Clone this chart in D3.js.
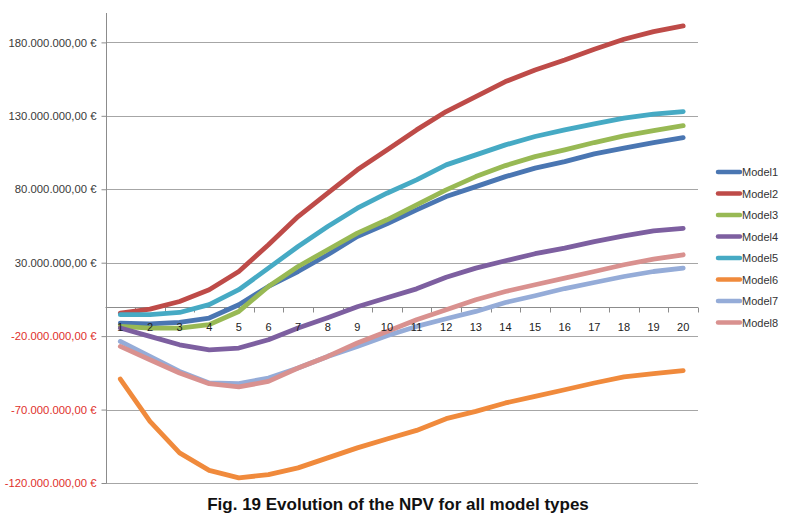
<!DOCTYPE html>
<html><head><meta charset="utf-8">
<script src="https://cdn.jsdelivr.net/npm/d3@7"></script>
<style>body{margin:0;background:#fff}svg{display:block}</style>
</head><body>
<svg id="c" width="793" height="514"></svg>
<script>
const years = d3.range(1, 21);
const seriesNames = ["Model1","Model2","Model3","Model4","Model5","Model6","Model7","Model8"];
const colors = ["#4a76b2","#be4b48","#98b954","#7d5fa0","#46aac4","#f08a3c","#95acd8","#d9918f"];
const yTicks = [-120e6,-70e6,-20e6,30e6,80e6,130e6,180e6];
const model1 = [-11.1,-11.6,-10.7,-7.7,1.4,13.8,24.0,35.4,47.8,56.5,66.0,75.0,81.8,88.6,94.4,98.8,104.1,108.0,111.8,115.2];
const model2 = [-4.3,-1.6,3.6,11.6,24.0,42.2,61.4,77.3,93.2,106.8,120.4,132.9,143.1,153.3,161.2,168.0,175.3,182.1,187.3,191.2];
const model3 = [-13.4,-14.5,-14.5,-12.2,-3.2,13.8,27.4,38.8,50.1,59.2,69.4,79.6,88.6,96.1,102.2,106.8,111.8,116.3,119.9,123.3];
const model4 = [-14.5,-20.2,-25.9,-29.3,-28.1,-22.5,-14.5,-7.5,0.0,6.1,12.2,20.1,26.3,31.3,36.1,39.9,44.4,48.3,51.7,53.3];
const model5 = [-5.4,-5.4,-3.9,1.4,11.6,26.3,41.0,54.6,67.1,77.3,86.4,96.6,103.4,110.2,115.9,120.4,124.5,128.4,131.1,132.9];
const model6 = [-49.2,-78.0,-99.5,-111.4,-116.5,-114.3,-109.7,-102.9,-96.1,-90.0,-84.2,-76.2,-71.2,-65.5,-61.0,-56.5,-51.9,-47.8,-45.6,-43.5];
const model7 = [-23.6,-33.8,-44.0,-51.9,-52.4,-48.5,-41.7,-33.8,-27.0,-19.7,-13.4,-8.2,-3.2,2.9,7.5,12.4,16.5,20.6,24.0,26.3];
const model8 = [-27.0,-36.1,-45.1,-52.4,-54.6,-50.8,-41.7,-33.8,-24.7,-16.8,-8.8,-2.0,4.8,10.4,15.0,19.5,24.0,28.6,32.4,35.4];
const allSeries = [model1,model2,model3,model4,model5,model6,model7,model8];

const svg = d3.select("#c");
const x = d3.scaleBand().domain(years).range([105.5, 698]);
const y = d3.scaleLinear().domain([-120e6, 200e6]).range([483, 13]);
const cx = d => x(d) + x.bandwidth()/2;
const fmt = v => {
  const s = d3.format(",.2f")(Math.abs(v)).replace(/,/g,"#").replace(".",",").replace(/#/g,".");
  return (v<0?"-":"") + s + " €";
};

// gridlines
svg.append("g").selectAll("line").data(yTicks).join("line")
  .attr("x1",106).attr("x2",698).attr("y1",d=>Math.round(y(d))+0.5).attr("y2",d=>Math.round(y(d))+0.5)
  .attr("stroke","#a6a6a6").attr("stroke-width",1);

// y axis
const yAxis = svg.append("g").attr("transform","translate(106.5,0)")
  .call(d3.axisLeft(y).tickValues(yTicks).tickSize(5).tickPadding(5).tickFormat(fmt));
yAxis.select(".domain").attr("stroke","#8c8c8c").attr("d","M0,13V483");
yAxis.selectAll(".tick line").attr("stroke","#8c8c8c");
yAxis.selectAll(".tick text").attr("font-family","Liberation Sans, Arial, sans-serif").attr("font-size","11.3px")
  .attr("fill",d=>d<0?"#e0302c":"#3a3a3a");

// x axis at zero
const y0 = Math.round(y(0))+0.5;
const xAxisG = svg.append("g").attr("transform",`translate(0,${y0})`);
xAxisG.append("line").attr("x1",105.5).attr("x2",698).attr("stroke","#8c8c8c");
xAxisG.selectAll("line.tk").data(d3.range(0,21)).join("line").attr("class","tk")
  .attr("x1",i=>Math.round(105.5+i*x.step())+0.5).attr("x2",i=>Math.round(105.5+i*x.step())+0.5)
  .attr("y1",0).attr("y2",5).attr("stroke","#8c8c8c");

// lines
const line = d3.line().x((d,i)=>cx(years[i])).y(d=>y(d*1e6));
svg.append("g").selectAll("path").data(allSeries).join("path")
  .attr("d",line).attr("fill","none").attr("stroke",(d,i)=>colors[i])
  .attr("stroke-width",4.8).attr("stroke-linecap","round").attr("stroke-linejoin","round");

// x tick labels (drawn over lines)
svg.append("g").attr("transform",`translate(0,${y0})`).selectAll("text").data(years).join("text")
  .attr("x",d=>cx(d)).attr("y",23).attr("text-anchor","middle")
  .attr("font-family","Liberation Sans, Arial, sans-serif").attr("font-size","11px").attr("fill","#222")
  .text(d=>d);

// legend
const lg = svg.append("g").selectAll("g").data(seriesNames).join("g")
  .attr("transform",(d,i)=>`translate(0,${172+i*21.5})`);
lg.append("line").attr("x1",718).attr("x2",740).attr("stroke",(d,i)=>colors[i])
  .attr("stroke-width",4.5).attr("stroke-linecap","round");
lg.append("text").attr("x",742).attr("y",4).attr("font-family","Liberation Sans, Arial, sans-serif")
  .attr("font-size","11px").attr("fill","#333").text(d=>d);

// caption
svg.append("text").attr("x",398).attr("y",510).attr("text-anchor","middle")
  .attr("font-family","Liberation Sans, Arial, sans-serif").attr("font-weight","bold").attr("font-size","17px")
  .attr("fill","#111").text("Fig. 19 Evolution of the NPV for all model types");
</script>
</body></html>
